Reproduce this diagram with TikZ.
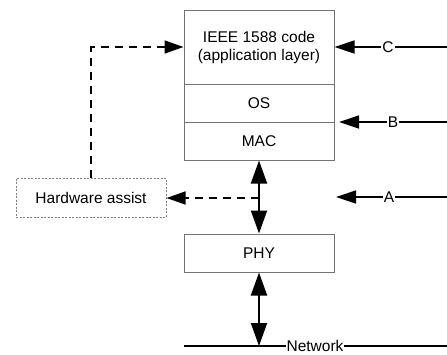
\documentclass[tikz,border=0pt]{standalone}
\usepackage{fontspec}
\setmainfont{Liberation Sans}
\usetikzlibrary{arrows.meta}
\begin{document}
\begin{tikzpicture}[x=1pt,y=-1pt,
  font=\fontsize{15.5}{18}\selectfont,
  layer/.style={draw=black!55,line width=1pt,minimum width=150pt,inner sep=0pt,align=center},
  hwbox/.style={draw=black!50,line width=1pt,dash pattern=on 2pt off 1.5pt,minimum width=150pt,minimum height=39pt,inner sep=0pt},
  arr/.style={line width=1.4pt,-{Triangle[length=20pt,width=13pt]}},
  darr/.style={line width=2pt,{Triangle[length=23pt,width=16pt]}-{Triangle[length=23pt,width=16pt]}},
  dasharr/.style={line width=1.5pt,dash pattern=on 8pt off 6pt,-{Triangle[length=19pt,width=13pt]}},
  lbl/.style={fill=white,inner sep=1pt}]
\useasboundingbox[fill=white] (0,0) rectangle (447,354);
\node[layer,minimum height=74pt] (app) at (259,47) {IEEE 1588 code\\(application layer)};
\node[layer,minimum height=38pt] (os) at (259,103) {OS};
\node[layer,minimum height=38pt] (mac) at (259,141) {MAC};
\node[layer,minimum height=38pt] (phy) at (259,253) {PHY};
\node[hwbox] (hw) at (91,197.5) {Hardware assist};
% network
\coordinate (netL) at (184,346);
\coordinate (netR) at (447,346);
\coordinate (net) at (259,346);
\draw[line width=1.8pt] (netL) -- (netR);
\node[lbl] (netlbl) at (315,346) {Network};
% vertical arrows
\draw[darr] (mac.south) -- (phy.north);
\draw[darr] (phy.south) -- (net);
% dashed
\coordinate (tap) at (259,198);
\draw[dasharr] (tap) -- (hw.east |- tap);
\draw[dasharr] (hw.north) |- (app.west);
% C B A
\coordinate (cR) at (447,47);
\coordinate (bR) at (447,122);
\coordinate (bT) at (339,122);
\coordinate (aR) at (447,197);
\coordinate (aT) at (336,197);
\draw[arr] (cR) -- (app.east);
\draw[arr] (bR) -- (bT);
\draw[arr] (aR) -- (aT);
\node[lbl] (c) at (388,47) {C};
\node[lbl] (b) at (393,122) {B};
\node[lbl] (a) at (389,197) {A};
\end{tikzpicture}
\end{document}
